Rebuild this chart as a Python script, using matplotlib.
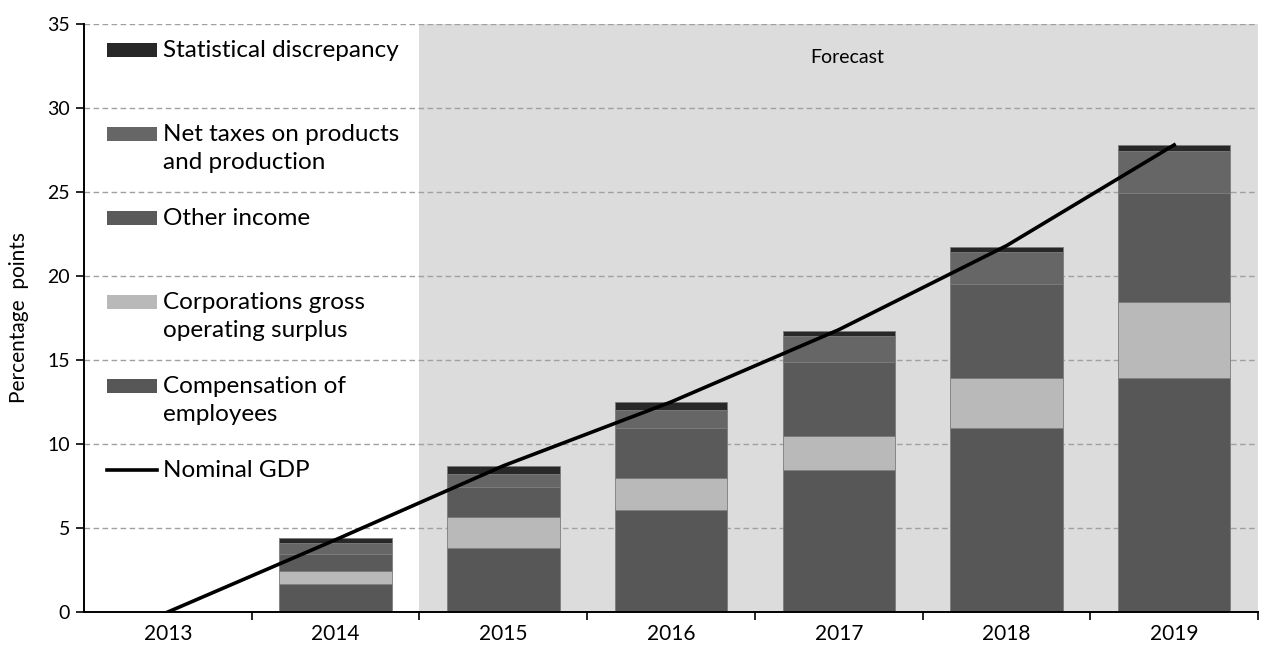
import numpy as np
import matplotlib.pyplot as plt
from matplotlib.patches import Rectangle

years = ['2013', '2014', '2015', '2016', '2017', '2018', '2019']
bar_years = years[1:]

compensation = [1.67, 3.83, 6.07, 8.45, 10.95, 13.90]
corporations = [0.75, 1.81, 1.93, 2.03, 2.98, 4.53]
other_income = [1.05, 1.78, 2.97, 4.38, 5.57, 6.53]
net_taxes = [0.61, 0.81, 1.05, 1.57, 1.93, 2.50]
stat_disc = [0.34, 0.46, 0.46, 0.31, 0.31, 0.34]
nominal_gdp = [0.0, 4.3, 8.7, 12.5, 16.8, 21.8, 27.8]

series = [
    ('Compensation of\nemployees', compensation, '#575757'),
    ('Corporations gross\noperating surplus', corporations, '#b9b9b9'),
    ('Other income', other_income, '#5a5a5a'),
    ('Net taxes on products\nand production', net_taxes, '#666666'),
    ('Statistical discrepancy', stat_disc, '#282828'),
]

plt.rcParams['font.family'] = ['Lato', 'DejaVu Sans']

fig = plt.figure(figsize=(12.66, 6.48), dpi=100)
ax = fig.add_axes([0.0664, 0.0556, 0.9273, 0.9074])

x_all = np.arange(len(years))
x_bar = x_all[1:]

ax.set_xlim(-0.5, len(years) - 0.5)
ax.set_ylim(0, 35)

# forecast shading
ax.axvspan(1.5, len(years) - 0.5, color='#dcdcdc', zorder=0, lw=0)
ax.text(4.05, 33.0, 'Forecast', ha='center', va='center', fontsize=14)

ax.set_yticks(np.arange(0, 36, 5))
ax.grid(axis='y', color='#a0a0a0', linestyle=(0, (4, 2.5)), linewidth=1.0, zorder=1)
ax.set_axisbelow(True)

bottom = np.zeros(len(bar_years))
for label, vals, col in series:
    ax.bar(x_bar, vals, 0.67, bottom=bottom, color=col, edgecolor='#7c7c7c',
           linewidth=0.6, zorder=2)
    bottom += np.array(vals)

ax.plot(x_all, nominal_gdp, color='black', linewidth=2.6, zorder=3)

# manual legend, one entry per grid band
trans = ax.get_yaxis_transform()
legend_items = list(reversed(series))
for i, (label, vals, col) in enumerate(legend_items):
    y = 33.45 - 5 * i
    ax.add_patch(Rectangle((0.0193, y - 0.4), 0.0426, 0.8, facecolor=col,
                           transform=trans, zorder=4))
    ax.text(0.0676, y + 0.62, label, transform=trans, ha='left', va='top',
            fontsize=17.5, linespacing=1.45, zorder=4)
y = 33.45 - 5 * len(legend_items)
ax.plot([0.0193, 0.0619], [y, y], color='black', linewidth=2.6,
        transform=trans, zorder=4)
ax.text(0.0676, y + 0.62, 'Nominal GDP', transform=trans, ha='left',
        va='top', fontsize=17.5, zorder=4)

ax.set_xticks(x_all)
ax.set_xticklabels(years, fontsize=15)
ax.set_xticks(np.arange(-0.5, len(years), 1.0)[1:], minor=True)
ax.tick_params(axis='x', which='major', length=0, pad=9)
ax.tick_params(axis='x', which='minor', length=6, width=1.2, direction='out')
ax.tick_params(axis='y', labelsize=14, length=6, width=1.2, direction='out', pad=4)

ax.set_ylabel('Percentage  points', fontsize=15)
ax.yaxis.set_label_coords(-0.047, 0.5)

ax.spines['top'].set_visible(False)
ax.spines['right'].set_visible(False)
ax.spines['left'].set_linewidth(1.4)
ax.spines['bottom'].set_linewidth(1.4)

fig.savefig('out.png', dpi=100)
